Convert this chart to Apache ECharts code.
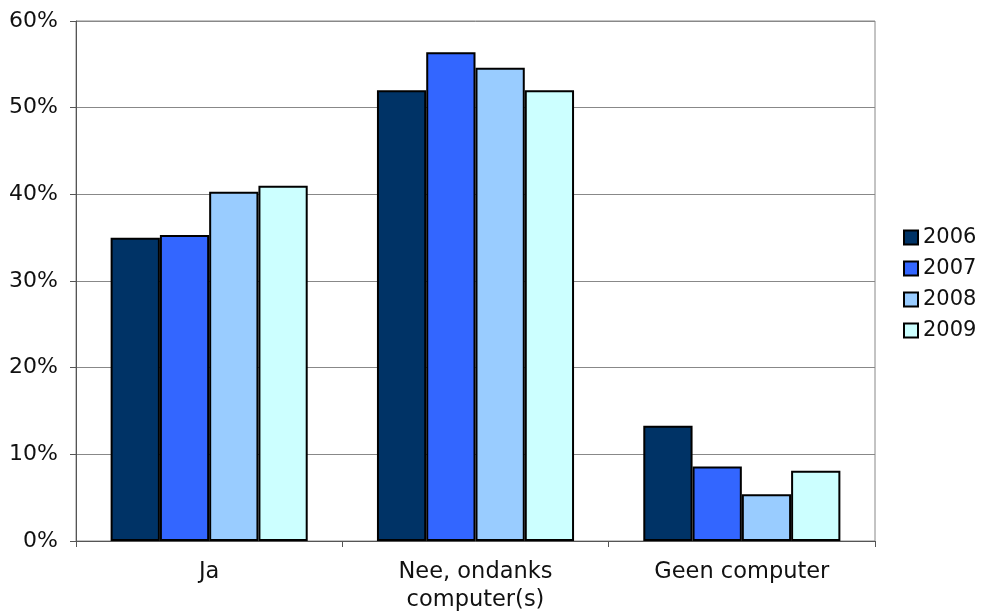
<!DOCTYPE html>
<html><head><meta charset="utf-8">
<script src="https://cdn.jsdelivr.net/npm/echarts@6/dist/echarts.min.js"></script>
<style>html,body{margin:0;padding:0;background:#fff}#c{width:982px;height:614px}</style>
</head><body><div id="c"></div>
<script>
const categories = ['Ja', 'Nee, ondanks\ncomputer(s)', 'Geen computer'];
const years = ['2006', '2007', '2008', '2009'];
const v2006 = [35.0, 52.0, 13.3];
const v2007 = [35.3, 56.4, 8.6];
const v2008 = [40.3, 54.6, 5.4];
const v2009 = [41.0, 52.0, 8.1];
const colors = ['#003366', '#3366FF', '#99CCFF', '#CCFFFF'];
const yTicks = [0, 10, 20, 30, 40, 50, 60];
const data = [v2006, v2007, v2008, v2009];
const font = 'DejaVu Sans, Verdana, sans-serif';
const chart = echarts.init(document.getElementById('c'));
chart.setOption({
  animation: false,
  backgroundColor: '#fff',
  grid: { left: 76, right: 107, top: 21, bottom: 71, show: true, borderColor: '#888', borderWidth: 1 },
  legend: {
    orient: 'vertical', left: 898, top: 222, itemWidth: 14, itemHeight: 14, itemGap: 10,
    textStyle: { fontFamily: font, fontSize: 21, color: '#111' },
    data: years.map(y => ({ name: y, icon: 'rect' }))
  },
  xAxis: {
    type: 'category', data: categories,
    axisLine: { lineStyle: { color: '#555', width: 1 } },
    axisTick: { show: true, length: 6, lineStyle: { color: '#555' } },
    axisLabel: { fontFamily: font, fontSize: 22.5, color: '#111', margin: 17, lineHeight: 28 }
  },
  yAxis: {
    type: 'value', min: 0, max: 60, interval: 10,
    axisLine: { show: true, lineStyle: { color: '#555', width: 1 } },
    axisTick: { show: true, length: 6, lineStyle: { color: '#555' } },
    splitLine: { lineStyle: { color: '#888', width: 1 } },
    axisLabel: { fontFamily: font, fontSize: 22, color: '#111', margin: 18, formatter: v => yTicks.includes(v) ? v + '%' : '' }
  },
  series: years.map((y, i) => ({
    name: y, type: 'bar', data: data[i], barGap: '0%', barCategoryGap: '26%',
    itemStyle: { color: colors[i], borderColor: '#000', borderWidth: 2 }
  }))
});
</script></body></html>
